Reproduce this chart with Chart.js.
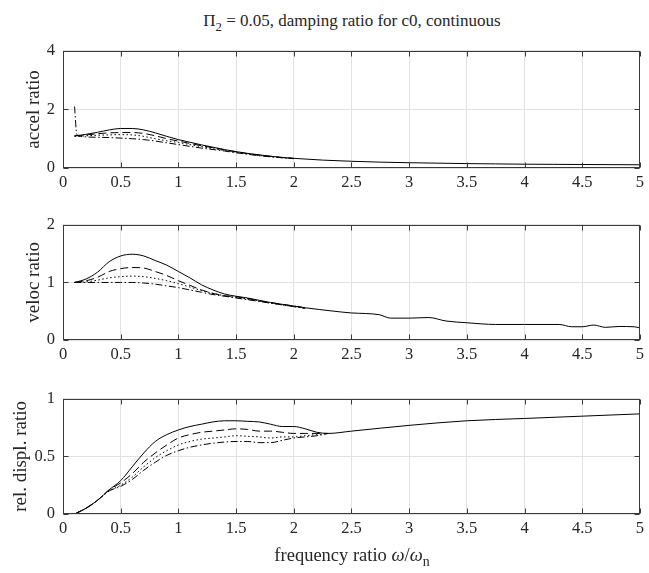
<!DOCTYPE html>
<html lang="en">
<head>
  <meta charset="UTF-8" />
  <title>damping ratio for c0</title>
  <script src="https://cdn.jsdelivr.net/npm/chart.js"></script>
  <style>
    body { margin: 0; background: #fff; }
    #wrap { position: relative; width: 649px; height: 573px; background: #fff; font-family: 'Liberation Serif', serif; color: #000; }
    #wrap canvas { position: absolute; left: 0; }
    .label { position: absolute; white-space: nowrap; line-height: 1; color: #262626; }
    .label sub { font-size: 0.75em; position: relative; top: 5px; vertical-align: baseline; }
  </style>
</head>
<body>
<div id="wrap">
  <div class="label" id="mainTitle" style="left:352px; top:12px; font-size:17px; transform:translateX(-50%);">&Pi;<sub>2</sub> = 0.05, damping ratio for c0, continuous</div>
  <canvas id="accel" width="649" height="170" style="top:33px"></canvas>
  <canvas id="veloc" width="649" height="168" style="top:207px"></canvas>
  <canvas id="displ" width="649" height="168" style="top:381px"></canvas>
  <div class="label" id="xTitle" style="left:352px; top:546px; font-size:18.5px; transform:translateX(-50%);">frequency ratio <i>&omega;</i>/<i>&omega;</i><sub>n</sub></div>
</div>

<script>
// ---- acceleration ratio ----
const accelX = [0.1, 0.12, 0.15, 0.2, 0.3, 0.4, 0.5, 0.6, 0.7, 0.8, 0.9, 1.0, 1.1, 1.2, 1.3, 1.4, 1.5, 1.6, 1.7, 1.8, 1.9, 2.0,
                2.25, 2.5, 2.75, 3.0, 3.25, 3.5, 3.75, 4.0, 4.25, 4.5, 4.75, 5.0];
const accelSolid   = [1.10, 1.11, 1.12, 1.15, 1.22, 1.30, 1.35, 1.35, 1.30, 1.20, 1.08, 0.97, 0.88, 0.79, 0.71, 0.63, 0.56, 0.50, 0.45, 0.40, 0.36, 0.33,
                      0.27, 0.23, 0.20, 0.18, 0.165, 0.15, 0.14, 0.13, 0.125, 0.12, 0.115, 0.11];
const accelDashed  = [1.10, 1.10, 1.11, 1.13, 1.17, 1.20, 1.21, 1.21, 1.18, 1.10, 1.00, 0.92, 0.84, 0.76, 0.69, 0.62, 0.55, 0.49, 0.44, 0.40, 0.36, 0.33];
const accelDotted  = [1.08, 1.08, 1.09, 1.10, 1.12, 1.13, 1.14, 1.13, 1.08, 1.00, 0.93, 0.87, 0.80, 0.73, 0.66, 0.60, 0.54, 0.48, 0.43, 0.39, 0.35, 0.32];
const accelDashDot = [2.10, 1.15, 1.08, 1.06, 1.05, 1.04, 1.02, 1.00, 0.97, 0.92, 0.86, 0.80, 0.74, 0.68, 0.63, 0.58, 0.52, 0.47, 0.42, 0.38, 0.35, 0.32];

// ---- velocity ratio ----
const velocX = [0.1, 0.2, 0.3, 0.4, 0.5, 0.6, 0.7, 0.8, 0.9, 1.0, 1.1, 1.2, 1.3, 1.4, 1.5, 1.6, 1.7, 1.8, 1.9, 2.0, 2.1,
                2.22, 2.35, 2.5, 2.62, 2.74, 2.84, 3.0, 3.17, 3.32, 3.5, 3.75, 4.0, 4.3, 4.41, 4.5, 4.6, 4.7, 4.82, 4.95, 5.0];
const velocSolid   = [1.00, 1.06, 1.18, 1.36, 1.46, 1.49, 1.46, 1.38, 1.30, 1.19, 1.08, 0.96, 0.87, 0.80, 0.76, 0.73, 0.69, 0.65, 0.62, 0.59, 0.56,
                      0.53, 0.50, 0.47, 0.46, 0.44, 0.38, 0.38, 0.39, 0.33, 0.30, 0.27, 0.27, 0.27, 0.23, 0.23, 0.26, 0.22, 0.235, 0.23, 0.21];
const velocDashed  = [1.00, 1.03, 1.09, 1.19, 1.24, 1.26, 1.25, 1.19, 1.12, 1.03, 0.95, 0.87, 0.81, 0.77, 0.75, 0.72, 0.68, 0.65, 0.62, 0.59, 0.56];
const velocDotted  = [1.00, 1.01, 1.04, 1.08, 1.10, 1.11, 1.10, 1.07, 1.03, 0.98, 0.92, 0.86, 0.81, 0.77, 0.74, 0.71, 0.68, 0.64, 0.61, 0.58, 0.55];
const velocDashDot = [1.00, 1.00, 1.00, 1.00, 1.00, 1.00, 0.99, 0.97, 0.94, 0.91, 0.87, 0.83, 0.79, 0.76, 0.73, 0.70, 0.67, 0.64, 0.61, 0.58, 0.55];

// ---- relative displacement ratio ----
const displX = [0.1, 0.2, 0.3, 0.4, 0.5, 0.6, 0.7, 0.8, 0.9, 1.0, 1.1, 1.2, 1.3, 1.4, 1.5, 1.6, 1.7, 1.8, 1.9, 2.0, 2.1, 2.2, 2.3,
                2.5, 3.0, 3.5, 4.0, 4.5, 5.0];
const displSolid   = [0, 0.05, 0.12, 0.21, 0.29, 0.41, 0.53, 0.63, 0.69, 0.73, 0.76, 0.78, 0.80, 0.81, 0.81, 0.805, 0.80, 0.78, 0.76, 0.76, 0.74, 0.71, 0.70,
                      0.72, 0.77, 0.81, 0.83, 0.85, 0.87];
const displDashed  = [0, 0.05, 0.12, 0.21, 0.27, 0.35, 0.45, 0.53, 0.60, 0.66, 0.69, 0.71, 0.72, 0.73, 0.74, 0.735, 0.72, 0.72, 0.71, 0.70, 0.70, 0.70, 0.70];
const displDotted  = [0, 0.05, 0.12, 0.20, 0.25, 0.32, 0.41, 0.49, 0.55, 0.60, 0.63, 0.65, 0.66, 0.67, 0.68, 0.675, 0.67, 0.66, 0.67, 0.67, 0.68, 0.69, 0.70];
const displDashDot = [0, 0.05, 0.12, 0.20, 0.24, 0.30, 0.38, 0.45, 0.51, 0.55, 0.58, 0.60, 0.615, 0.625, 0.63, 0.63, 0.62, 0.62, 0.64, 0.66, 0.67, 0.68, 0.70];

const FONT = 'Liberation Serif';
const lineStyles = [[], [8, 4], [1.5, 2.5], [7, 2.5, 1.5, 2.5]];
const fmt = v => String(+Number(v).toFixed(2));

// draws the closed box and the inward tick marks like MATLAB axes
const boxPlugin = {
  id: 'box',
  afterDraw(chart) {
    const { ctx, chartArea: a, scales: { x, y } } = chart;
    const L = Math.round(a.left) + 0.5, R = Math.round(a.right) - 0.5;
    const T = Math.round(a.top) + 0.5, B = Math.round(a.bottom) - 0.5;
    ctx.save();
    ctx.strokeStyle = '#3a3a3a';
    ctx.lineWidth = 1;
    ctx.beginPath();
    x.ticks.forEach(t => {
      const p = Math.round(x.getPixelForValue(t.value)) + 0.5;
      ctx.moveTo(p, B); ctx.lineTo(p, B - 5);
      ctx.moveTo(p, T); ctx.lineTo(p, T + 5);
    });
    y.ticks.forEach(t => {
      const p = Math.round(y.getPixelForValue(t.value)) + 0.5;
      ctx.moveTo(L, p); ctx.lineTo(L + 5, p);
      ctx.moveTo(R, p); ctx.lineTo(R - 5, p);
    });
    ctx.stroke();
    ctx.strokeRect(L, T, R - L, B - T);
    ctx.restore();
  }
};

function makeChart(id, xs, series, yMax, yStep, yTitle, titlePad) {
  const datasets = series.map((vals, i) => ({
    data: vals.map((v, k) => ({ x: xs[k], y: v })),
    borderColor: '#000',
    borderWidth: 1,
    borderDash: lineStyles[i],
    pointRadius: 0,
    cubicInterpolationMode: 'monotone',
    fill: false
  }));
  const tickFont = { family: FONT, size: 16.5 };
  return new Chart(document.getElementById(id), {
    type: 'line',
    data: { datasets },
    options: {
      responsive: false,
      animation: false,
      events: [],
      layout: { padding: { top: 10, right: 8, left: 0, bottom: 0 } },
      plugins: { legend: { display: false }, tooltip: { enabled: false } },
      scales: {
        x: {
          type: 'linear', min: 0, max: 5,
          ticks: { stepSize: 0.5, color: '#262626', font: tickFont, padding: 5, maxRotation: 0, callback: fmt },
          grid: { color: '#e2e2e2', drawTicks: false },
          border: { display: false },
          afterFit: s => { s.height = 35; }
        },
        y: {
          min: 0, max: yMax,
          ticks: { stepSize: yStep, color: '#262626', font: tickFont, padding: 8, callback: fmt },
          grid: { color: '#e2e2e2', drawTicks: false },
          border: { display: false },
          title: { display: true, text: yTitle, color: '#262626', font: { family: FONT, size: 19 }, padding: { top: titlePad, bottom: 0 } },
          afterFit: s => { s.width = 63; }
        }
      }
    },
    plugins: [boxPlugin]
  });
}

makeChart('accel', accelX, [accelSolid, accelDashed, accelDotted, accelDashDot], 4, 2, 'accel ratio', 23);
makeChart('veloc', velocX, [velocSolid, velocDashed, velocDotted, velocDashDot], 2, 1, 'veloc ratio', 23);
makeChart('displ', displX, [displSolid, displDashed, displDotted, displDashDot], 1, 0.5, 'rel. displ. ratio', 10);
</script>
</body>
</html>
